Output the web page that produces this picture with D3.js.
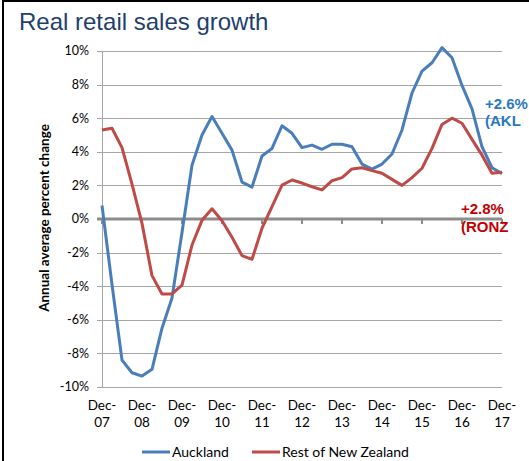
<!DOCTYPE html>
<html><head><meta charset="utf-8">
<script src="https://cdn.jsdelivr.net/npm/d3@7/dist/d3.min.js"></script>
<style>body{margin:0;background:#fff;} svg{display:block;}</style>
</head><body>
<svg id="c" width="529" height="461"></svg>
<script>
const quarters = ["Dec-07","Mar-08","Jun-08","Sep-08","Dec-08","Mar-09","Jun-09","Sep-09","Dec-09","Mar-10","Jun-10","Sep-10","Dec-10","Mar-11","Jun-11","Sep-11","Dec-11","Mar-12","Jun-12","Sep-12","Dec-12","Mar-13","Jun-13","Sep-13","Dec-13","Mar-14","Jun-14","Sep-14","Dec-14","Mar-15","Jun-15","Sep-15","Dec-15","Mar-16","Jun-16","Sep-16","Dec-16","Mar-17","Jun-17","Sep-17","Dec-17"];
const tickLabels = ["Dec-07","Dec-08","Dec-09","Dec-10","Dec-11","Dec-12","Dec-13","Dec-14","Dec-15","Dec-16","Dec-17"];
const yTicks = [-10,-8,-6,-4,-2,0,2,4,6,8,10];
const auckland = [0.8,-3.9,-8.4,-9.15,-9.35,-8.95,-6.5,-4.7,-0.8,3.2,5.0,6.1,5.1,4.1,2.2,1.9,3.75,4.2,5.55,5.1,4.25,4.4,4.15,4.45,4.45,4.3,3.27,2.97,3.27,3.87,5.3,7.5,8.8,9.3,10.2,9.6,7.95,6.55,4.3,3.05,2.7];
const restNZ = [5.3,5.4,4.25,2.08,-0.26,-3.37,-4.46,-4.46,-3.93,-1.55,-0.08,0.61,-0.1,-1.09,-2.18,-2.4,-0.55,0.73,2.02,2.32,2.14,1.92,1.73,2.28,2.46,2.98,3.05,2.88,2.72,2.36,2.0,2.46,3.02,4.2,5.63,6.0,5.7,4.74,3.8,2.72,2.78];
const seriesNames = ["Auckland","Rest of New Zealand"];
const seriesColors = ["#4A7EBB","#BE4B48"];
const annotations = ["+2.6%","(AKL","+2.8%","(RONZ"];

const svg = d3.select("#c");
const font = "Lato, 'Open Sans', sans-serif";

// frame
svg.append("line").attr("x1",2).attr("x2",529).attr("y1",1).attr("y2",1).attr("stroke","#000").attr("stroke-width",2);
svg.append("line").attr("x1",3).attr("x2",3).attr("y1",0).attr("y2",461).attr("stroke","#000").attr("stroke-width",2);

// title
svg.append("text").attr("x",19).attr("y",29.5).attr("font-family","Arial, 'Liberation Sans', sans-serif")
  .attr("font-size",24).attr("fill","#1F3F6E").text("Real retail sales growth");

const x = d3.scalePoint().domain(quarters).range([102,502]);
const y = d3.scaleLinear().domain([-10,10]).range([387,51]);

// gridlines
svg.append("g").selectAll("line").data(yTicks.filter(d=>d!==0)).join("line")
  .attr("x1",97).attr("x2",502).attr("y1",d=>Math.round(y(d))+0.5).attr("y2",d=>Math.round(y(d))+0.5)
  .attr("stroke","#A6A6A6").attr("stroke-width",1);

// y axis line
svg.append("line").attr("x1",102.5).attr("x2",102.5).attr("y1",y(10)).attr("y2",y(-10)).attr("stroke","#A6A6A6");

// y tick labels
svg.append("g").selectAll("text").data(yTicks).join("text")
  .attr("x",89).attr("y",d=>y(d)).attr("dy","0.35em").attr("text-anchor","end")
  .attr("font-family",font).attr("font-size",12.5).attr("fill","#000")
  .text(d=>d+"%");

// zero axis with ticks
svg.append("line").attr("x1",97).attr("x2",502).attr("y1",y(0)).attr("y2",y(0)).attr("stroke","#8C8C8C").attr("stroke-width",3);
svg.append("g").selectAll("line").data(tickLabels).join("line")
  .attr("x1",d=>x(d)).attr("x2",d=>x(d)).attr("y1",y(0)).attr("y2",y(0)+5)
  .attr("stroke","#8C8C8C").attr("stroke-width",2);

// x labels
const xl = svg.append("g").selectAll("text").data(tickLabels).join("text")
  .attr("x",d=>x(d)).attr("y",410).attr("text-anchor","middle")
  .attr("font-family",font).attr("font-size",13.5).attr("fill","#000");
xl.append("tspan").attr("x",d=>x(d)).text(d=>d.split("-")[0]+"-");
xl.append("tspan").attr("x",d=>x(d)).attr("dy",17).text(d=>d.split("-")[1]);

// y axis title
svg.append("text").attr("transform","translate(49,218) rotate(-90)").attr("text-anchor","middle")
  .attr("font-family",font).attr("font-size",13.5).attr("font-weight","bold").attr("fill","#000")
  .text("Annual average percent change");

// lines
const line = d3.line().x((d,i)=>x(quarters[i])).y(d=>y(d));
[auckland,restNZ].forEach((s,k)=>{
  svg.append("path").datum(s).attr("d",line).attr("fill","none")
    .attr("stroke",seriesColors[k]).attr("stroke-width",3).attr("stroke-linejoin","round");
});

// annotations
const ann = svg.append("g").attr("font-family","Arial, 'Liberation Sans', sans-serif").attr("font-weight","bold").attr("font-size",15);
ann.append("text").attr("x",485).attr("y",109).attr("fill","#2A78C2").text(annotations[0]);
ann.append("text").attr("x",485).attr("y",126).attr("fill","#2A78C2").text(annotations[1]);
ann.append("text").attr("x",461).attr("y",214).attr("fill","#C00000").text(annotations[2]);
ann.append("text").attr("x",461).attr("y",232).attr("fill","#C00000").text(annotations[3]);

// legend
const lg = svg.append("g");
const lx = [142,252];
seriesNames.forEach((n,k)=>{
  lg.append("line").attr("x1",lx[k]).attr("x2",lx[k]+28).attr("y1",452).attr("y2",452).attr("stroke",seriesColors[k]).attr("stroke-width",3);
  lg.append("text").attr("x",lx[k]+30).attr("y",452).attr("dy","0.35em").attr("font-family",font).attr("font-size",14).attr("fill","#000").text(n);
});
</script>
</body></html>
